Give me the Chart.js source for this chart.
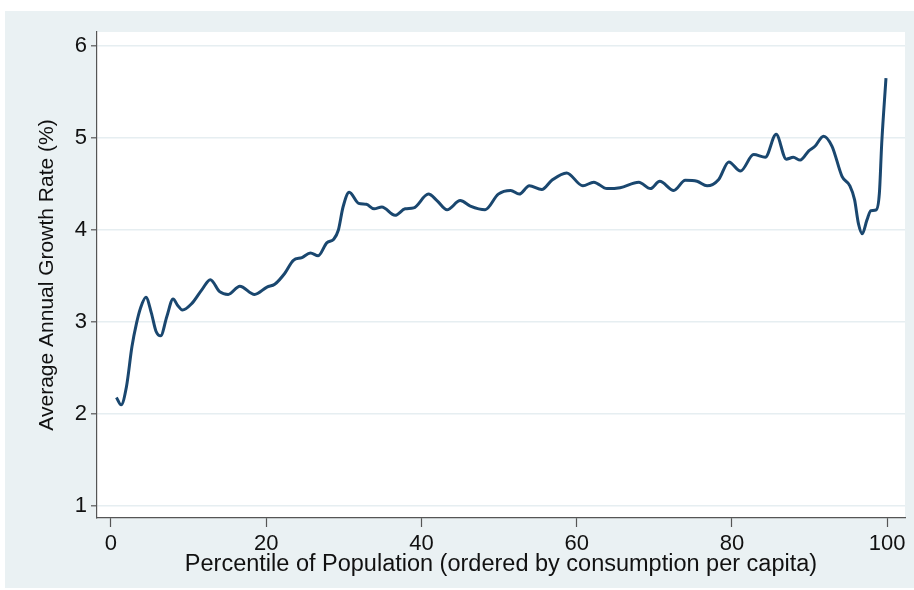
<!DOCTYPE html>
<html>
<head>
<meta charset="utf-8">
<script src="https://cdn.jsdelivr.net/npm/chart.js@4/dist/chart.umd.min.js"></script>
<style>
  html, body { margin: 0; padding: 0; background: #ffffff; }
  #wrap { width: 914px; height: 590px; }
</style>
</head>
<body>
<div id="wrap"><canvas id="gic" width="914" height="590"></canvas></div>
<script>
// Growth incidence curve: average annual growth rate by percentile
const percentiles = [
  0.7, 1.3, 2.0, 2.7, 3.3, 3.8, 4.5, 5.2, 5.8, 6.4, 7.2, 8.0, 8.6, 9.2, 10.4,
  11.7, 12.8, 14.0, 15.1, 16.6, 18.5, 20.1, 21.1, 22.4, 23.5, 24.6, 25.7, 26.7,
  27.8, 28.7, 29.3, 29.9, 30.7, 31.9, 32.9, 33.9, 34.9, 36.6, 37.9, 39.0, 40.9,
  42.0, 43.3, 45.0, 46.3, 48.2, 49.9, 51.5, 52.6, 53.9, 55.5, 56.8, 58.7, 60.8,
  62.2, 63.9, 65.6, 68.0, 69.5, 70.7, 72.5, 74.0, 75.5, 76.8, 78.3, 79.6, 81.1,
  82.8, 84.3, 85.7, 87.0, 87.9, 88.8, 89.9, 90.7, 91.8, 92.9, 94.2, 95.2, 95.8,
  96.3, 96.8, 97.4, 97.9, 98.6, 99.0, 99.3, 99.85
];
const growthRates = [
  2.18, 2.10, 2.30, 2.73, 2.99, 3.15, 3.27, 3.10, 2.90, 2.85, 3.06, 3.25, 3.18, 3.13, 3.20,
  3.35, 3.46, 3.33, 3.30, 3.39, 3.30, 3.38, 3.41, 3.53, 3.67, 3.70, 3.75, 3.72,
  3.86, 3.90, 4.00, 4.25, 4.41, 4.29, 4.28, 4.23, 4.25, 4.16, 4.23, 4.24, 4.39,
  4.32, 4.22, 4.32, 4.26, 4.22, 4.39, 4.43, 4.39, 4.48, 4.44, 4.54, 4.62, 4.48,
  4.52, 4.45, 4.46, 4.52, 4.45, 4.53, 4.43, 4.54, 4.53, 4.48, 4.55, 4.74, 4.64,
  4.82, 4.79, 5.04, 4.77, 4.79, 4.76, 4.86, 4.91, 5.02, 4.91, 4.58, 4.48, 4.33,
  4.07, 3.96, 4.11, 4.21, 4.22, 4.40, 4.94, 5.65
];
const xTicks = [0, 20, 40, 60, 80, 100];
const yTicks = [1, 2, 3, 4, 5, 6];
const xTitle = 'Percentile of Population (ordered by consumption per capita)';
const yTitle = 'Average Annual Growth Rate (%)';

const points = percentiles.map((p, i) => ({ x: p, y: growthRates[i] }));

const FONT = 'Liberation Sans, Arial, sans-serif';
const BG = '#eaf1f3';

// Light outer frame behind the white plot region
const frame = {
  id: 'frame',
  beforeDraw(chart) {
    const { ctx, chartArea: a } = chart;
    ctx.save();
    ctx.fillStyle = '#ffffff';
    ctx.fillRect(0, 0, chart.width, chart.height);
    ctx.fillStyle = BG;
    ctx.fillRect(5, 11, chart.width - 5, chart.height - 13);
    ctx.fillStyle = '#ffffff';
    ctx.fillRect(a.left, a.top, a.right - a.left, a.bottom - a.top);
    ctx.restore();
  }
};

new Chart(document.getElementById('gic'), {
  type: 'scatter',
  data: {
    datasets: [{
      data: points,
      showLine: true,
      borderColor: '#1a476f',
      borderWidth: 3,
      pointRadius: 0,
      cubicInterpolationMode: 'monotone',
      fill: false
    }]
  },
  options: {
    responsive: false,
    animation: false,
    layout: { padding: { top: 32, right: 9, bottom: 0, left: 0 } },
    plugins: { legend: { display: false }, tooltip: { enabled: false } },
    scales: {
      x: {
        type: 'linear',
        min: -1.8,
        max: 102.3,
        afterBuildTicks: s => { s.ticks = xTicks.map(v => ({ value: v })); },
        afterFit: s => { s.height = 72; },
        grid: { drawOnChartArea: false, drawTicks: true, tickLength: 9, tickColor: '#555555', tickWidth: 1.2 },
        border: { display: true, color: '#555555', width: 1.2 },
        ticks: { color: '#111111', font: { family: FONT, size: 22 }, padding: 4, maxRotation: 0 },
        title: { display: true, text: xTitle, color: '#111111', font: { family: FONT, size: 23.5 }, padding: { top: 11, bottom: 11 } }
      },
      y: {
        min: 0.87,
        max: 6.152,
        afterBuildTicks: s => { s.ticks = yTicks.map(v => ({ value: v })); },
        afterFit: s => { s.width = 97; },
        grid: { color: '#e6eef1', lineWidth: 1.6, drawTicks: true, tickLength: 6, tickColor: '#555555', tickWidth: 1.2 },
        border: { display: true, color: '#555555', width: 1.2 },
        ticks: { color: '#111111', font: { family: FONT, size: 22 }, padding: 4 },
        title: { display: true, text: yTitle, color: '#111111', font: { family: FONT, size: 21 }, padding: { top: 35, bottom: 35 } }
      }
    }
  },
  plugins: [frame]
});
</script>
</body>
</html>
